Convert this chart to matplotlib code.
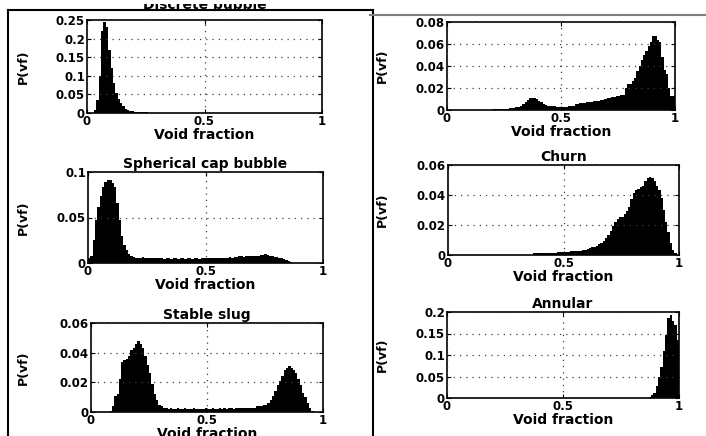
import numpy as np
import matplotlib
matplotlib.use("Agg")
import matplotlib.pyplot as plt
from matplotlib.lines import Line2D
from matplotlib.patches import Rectangle
from matplotlib.ticker import FuncFormatter

# probabilidad por clase (ancho 0.01) de la fraccion de vacio, una lista por regimen
discrete_bubble = ([0, 0, 0, 0.008, 0.035, 0.10, 0.22, 0.245, 0.23, 0.17,
                    0.12, 0.08, 0.055, 0.038, 0.026, 0.018, 0.012, 0.009, 0.006, 0.005,
                    0.004, 0.003, 0.003, 0.002, 0.002, 0.002, 0.001, 0.001, 0.001, 0.001]
                   + [0] * 70)

spherical_cap = [0.005, 0.008, 0.025, 0.047, 0.062, 0.074, 0.083, 0.089, 0.091, 0.091,
                 0.088, 0.084, 0.066, 0.047, 0.030, 0.020, 0.014, 0.010, 0.008, 0.007,
                 0.006, 0.005, 0.006, 0.007, 0.006, 0.005, 0.005, 0.006, 0.005, 0.005,
                 0.005, 0.005, 0.004, 0.005, 0.005, 0.004, 0.005, 0.005, 0.004, 0.005,
                 0.005, 0.004, 0.005, 0.005, 0.004, 0.005, 0.005, 0.004, 0.005, 0.005,
                 0.005, 0.005, 0.005, 0.006, 0.005, 0.006, 0.006, 0.006, 0.006, 0.006,
                 0.007, 0.006, 0.007, 0.007, 0.008, 0.008, 0.007, 0.008, 0.008, 0.008,
                 0.008, 0.008, 0.008, 0.009, 0.009, 0.010, 0.009, 0.008, 0.008, 0.007,
                 0.007, 0.006, 0.005, 0.004, 0.003, 0.002, 0.001, 0, 0, 0,
                 0, 0, 0, 0, 0, 0, 0, 0, 0, 0]

stable_slug = [0, 0, 0, 0, 0, 0, 0, 0, 0.001, 0.004,
               0.011, 0.012, 0.022, 0.034, 0.035, 0.036, 0.038, 0.042, 0.043, 0.046,
               0.048, 0.046, 0.043, 0.038, 0.032, 0.026, 0.019, 0.012, 0.008, 0.005,
               0.004, 0.003, 0.003, 0.002, 0.003, 0.002, 0.002, 0.003, 0.002, 0.002,
               0.003, 0.002, 0.002, 0.002, 0.003, 0.002, 0.002, 0.002, 0.002, 0.003,
               0.002, 0.002, 0.003, 0.002, 0.002, 0.003, 0.002, 0.003, 0.002, 0.003,
               0.003, 0.002, 0.003, 0.003, 0.003, 0.003, 0.003, 0.003, 0.003, 0.003,
               0.003, 0.004, 0.004, 0.004, 0.005, 0.005, 0.006, 0.008, 0.011, 0.014,
               0.018, 0.021, 0.024, 0.028, 0.030, 0.031, 0.030, 0.028, 0.026, 0.022,
               0.018, 0.013, 0.010, 0.006, 0.003, 0.001, 0, 0, 0, 0]

unstable_slug = ([0] * 20
                 + [0.0005, 0.0005, 0.0005, 0.0005, 0.0005, 0.0005, 0.001, 0.0015, 0.002, 0.002,
                    0.003, 0.003, 0.004, 0.005, 0.007, 0.009, 0.011, 0.011, 0.011, 0.010,
                    0.008, 0.007, 0.005, 0.0045, 0.004, 0.004, 0.0035, 0.0035, 0.003, 0.003,
                    0.003, 0.003, 0.003, 0.0035, 0.004, 0.004, 0.005, 0.005, 0.006, 0.006,
                    0.006, 0.007, 0.007, 0.0075, 0.008, 0.008, 0.0085, 0.009, 0.009, 0.010,
                    0.0105, 0.011, 0.012, 0.012, 0.013, 0.013, 0.0135, 0.014, 0.020, 0.024,
                    0.024, 0.026, 0.029, 0.035, 0.040, 0.045, 0.050, 0.054, 0.058, 0.062,
                    0.067, 0.067, 0.064, 0.062, 0.048, 0.036, 0.033, 0.020, 0.013, 0.013])

churn = ([0] * 37
         + [0.001, 0.001, 0.001,
            0.0012, 0.0012, 0.0013, 0.0014, 0.0015, 0.0015, 0.0016, 0.0017, 0.0018, 0.002,
            0.002, 0.002, 0.0022, 0.0024, 0.0025, 0.0026, 0.0027, 0.0028, 0.003, 0.0035,
            0.004, 0.0045, 0.005, 0.0055, 0.006, 0.007, 0.008, 0.009, 0.011, 0.013,
            0.016, 0.019, 0.022, 0.024, 0.025, 0.025, 0.027, 0.029, 0.032, 0.037,
            0.041, 0.043, 0.044, 0.045, 0.046, 0.049, 0.051, 0.052, 0.051, 0.049,
            0.046, 0.043, 0.038, 0.030, 0.022, 0.015, 0.008, 0.003, 0.001, 0])

annular = ([0] * 87
           + [0.002, 0.006, 0.012,
              0.027, 0.050, 0.073, 0.110, 0.147, 0.185, 0.194, 0.180, 0.170, 0.136])

titles = ["Discrete bubble", "Spherical cap bubble", "Stable slug",
          "", "Churn", "Annular"]
series = [discrete_bubble, spherical_cap, stable_slug, unstable_slug, churn, annular]
y_max = [0.25, 0.1, 0.06, 0.08, 0.06, 0.2]
y_step = [0.05, 0.05, 0.02, 0.02, 0.02, 0.05]

# posicion de cada eje en pixeles: izquierda, arriba, derecha, abajo
W, H = 706, 436
boxes = [(87, 20, 322, 113), (88, 172, 323, 263), (91, 323, 323, 412),
         (447, 22, 675, 110), (448, 165, 679, 255), (447, 312, 679, 398)]
title_pad = [8, 3, 3, 3, 3, 3]

plt.rcParams["font.family"] = ["DejaVu Sans"]
plt.rcParams["font.weight"] = "bold"

fig = plt.figure(figsize=(W / 100, H / 100), dpi=100)
fig.patch.set_facecolor("white")

edges = np.linspace(0, 1, 101)
fmt = FuncFormatter(lambda v, pos: "{:g}".format(round(v, 4)))

for k in range(6):
    l, t, r, b = boxes[k]
    ax = fig.add_axes([l / W, 1 - b / H, (r - l) / W, (b - t) / H])
    ax.stairs(series[k], edges, fill=True, color="black", linewidth=0)
    ax.set_xlim(0, 1)
    ax.set_ylim(0, y_max[k])
    ax.set_xticks([0, 0.5, 1])
    ax.set_yticks(np.arange(0, y_max[k] + 1e-9, y_step[k]))
    ax.xaxis.set_major_formatter(fmt)
    ax.yaxis.set_major_formatter(fmt)
    ax.tick_params(direction="in", top=True, right=True, length=3, width=0.8,
                   labelsize=8.5, pad=1.5)
    ax.grid(True, color="0.25", linestyle=(0, (1, 4)), linewidth=0.9)
    ax.set_axisbelow(False)
    for s in ax.spines.values():
        s.set_linewidth(1.2)
    ax.set_xlabel("Void fraction", fontsize=10, fontweight="bold", labelpad=0)
    ax.set_ylabel("P(vf)", fontsize=9, fontweight="bold", va="center")
    # etiqueta del eje y alineada en la misma columna para cada lado
    ax.yaxis.set_label_coords(((23 if l < 300 else 382) - l) / (r - l), 0.5)
    if titles[k]:
        ax.set_title(titles[k], fontsize=10, fontweight="bold", pad=title_pad[k])

# el titulo del primer panel queda cortado por el borde superior
fig.add_artist(Rectangle((0, 1 - 4 / H), 0.52, 4 / H, transform=fig.transFigure,
                         facecolor="white", edgecolor="none", zorder=5))

# marcos de la pagina escaneada
def linea(x0, y0, x1, y1, color="black", lw=1.5):
    fig.add_artist(Line2D([x0 / W, x1 / W], [1 - y0 / H, 1 - y1 / H],
                          transform=fig.transFigure, color=color, linewidth=lw,
                          zorder=6))

linea(8, 10, 8, 436)
linea(8, 10, 373, 10)
linea(373, 10, 373, 436)
linea(370, 15, 706, 15, color="0.5", lw=1.5)

fig.savefig("out.png", dpi=100)
